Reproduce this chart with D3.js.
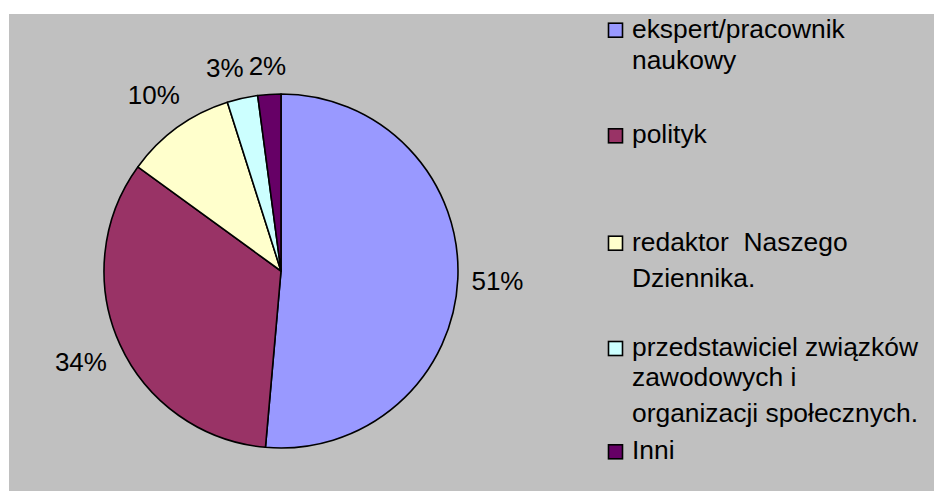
<!DOCTYPE html>
<html>
<head>
<meta charset="utf-8">
<script src="https://cdn.jsdelivr.net/npm/d3@7"></script>
<style>
  html, body { margin: 0; padding: 0; background: #ffffff; }
  svg { display: block; }
  text { font-family: "Liberation Sans", Arial, Helvetica, sans-serif; fill: #000; }
</style>
</head>
<body>
<svg id="chart" width="934" height="491"></svg>
<script>
// ---- data ----
const categories = [
  ["ekspert/pracownik", "naukowy"],
  ["polityk"],
  ["redaktor  Naszego", "Dziennika."],
  ["przedstawiciel związków", "zawodowych i", "organizacji społecznych."],
  ["Inni"]
];
const values = [51.4, 33.6, 10.1, 2.8, 2.1];
const colors = ["#9999FF", "#993366", "#FFFFCC", "#CCFFFF", "#660066"];

// ---- layout ----
const W = 934, H = 491;
const cx = 281, cy = 271, R = 177;
const labelFont = 26, legendFont = 26.4;
const legendX = 608, legendTextX = 632, sq = 15;
const legendBaselines = [[37.7, 69.3], [143.3], [250.7, 286.7], [356, 386, 421.7], [459.3]];

const svg = d3.select("#chart");
svg.append("rect").attr("x", 9).attr("y", 14).attr("width", W - 9).attr("height", H - 14)
  .attr("fill", "#C0C0C0");

const pie = d3.pie().sort(null).value(d => d)(values);
const arc = d3.arc().innerRadius(0).outerRadius(R);
const total = d3.sum(values);

const g = svg.append("g").attr("transform", `translate(${cx},${cy})`);
g.selectAll("path.slice").data(pie).join("path")
  .attr("class", "slice")
  .attr("d", arc)
  .attr("fill", (d, i) => colors[i])
  .attr("stroke", "#000")
  .attr("stroke-width", 1.6)
  .attr("stroke-linejoin", "round");

// percentage labels placed outside the pie
const labels = g.selectAll("text.pct").data(pie).join("text")
  .attr("class", "pct")
  .attr("font-size", labelFont)
  .attr("text-anchor", "middle")
  .text(d => Math.round(d.value / total * 100) + "%");

const boxes = [];
labels.each(function(d) {
  const w = this.getComputedTextLength();
  const h = labelFont * 1.15;
  const a = (d.startAngle + d.endAngle) / 2;
  const sx = Math.sin(a), sy = -Math.cos(a);
  const dist = R + 13 + Math.abs(sx) * w / 2 + Math.abs(sy) * h / 2;
  boxes.push({ node: this, x: sx * dist, y: sy * dist, w, h });
});
// simple collision avoidance: push an earlier label left if it overlaps the next one
for (let i = boxes.length - 1; i > 0; i--) {
  const b = boxes[i], p = boxes[i - 1];
  const overlapX = (p.x + p.w / 2 + 5) - (b.x - b.w / 2);
  const overlapY = Math.abs(p.y - b.y) < (p.h + b.h) / 2;
  if (overlapX > 0 && overlapY) p.x -= overlapX;
}
boxes.forEach(b => {
  d3.select(b.node).attr("x", b.x).attr("y", b.y).attr("dy", "0.36em");
});

// legend
const lg = svg.append("g");
categories.forEach((lines, i) => {
  const b = legendBaselines[i];
  lg.append("rect")
    .attr("x", legendX + 0.5).attr("y", b[0] - sq + 0.5)
    .attr("width", sq - 1).attr("height", sq - 1)
    .attr("fill", colors[i]).attr("stroke", "#000").attr("stroke-width", 1.6);
  lines.forEach((t, j) => {
    lg.append("text")
      .attr("x", legendTextX).attr("y", b[j])
      .attr("font-size", legendFont)
      .style("white-space", "pre")
      .text(t);
  });
});
</script>
</body>
</html>
